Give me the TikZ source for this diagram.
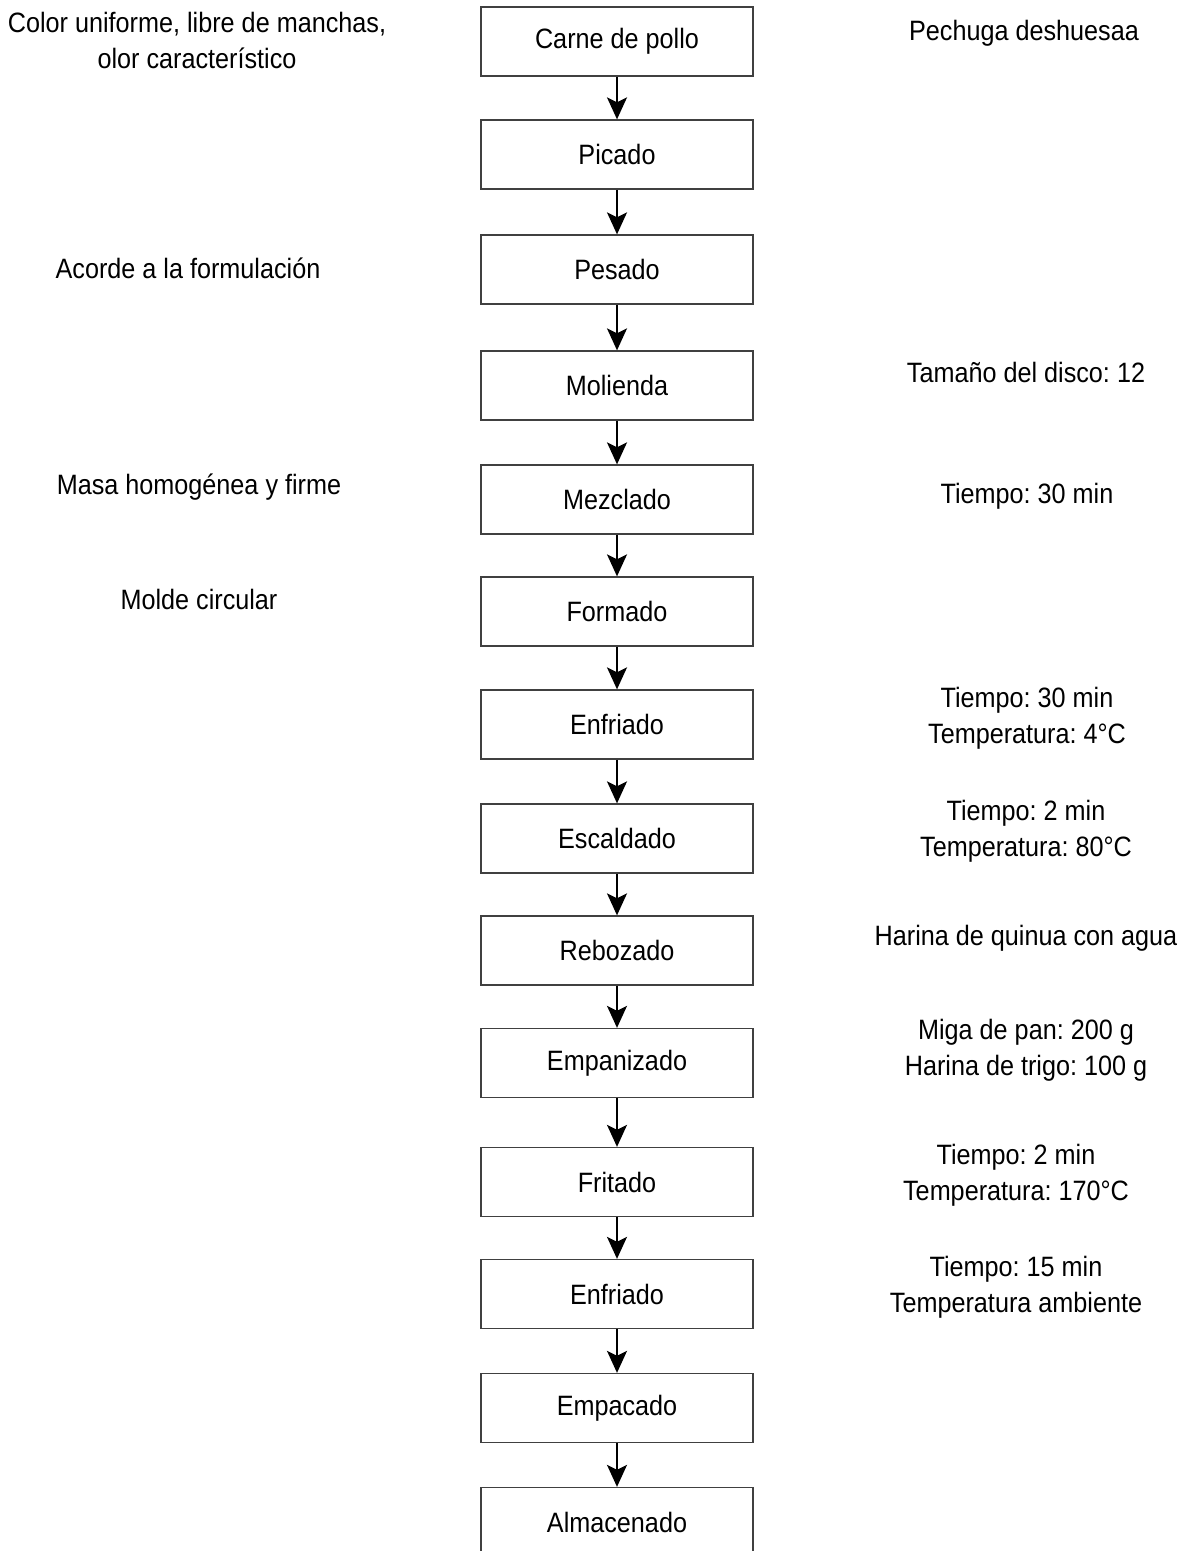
\documentclass[tikz,border=0pt]{standalone}
\usepackage{fontspec}
\setmainfont{Liberation Sans}[FakeStretch=0.9]
\usepackage{tikz}
\usetikzlibrary{arrows.meta}
\frenchspacing

\begin{document}
\begin{tikzpicture}[x=0.5pt,y=-0.5pt,
    font=\fontsize{14}{18}\selectfont,
    etapa/.style={draw=black!75,line width=0.65pt,minimum width=136pt,minimum height=34.5pt,inner sep=0pt},
    nota/.style={align=center,inner sep=0pt},
    flecha/.style={-{Stealth[length=11pt,width=10pt,inset=2.5pt]},line width=1pt}]
    \useasboundingbox (0,0) rectangle (1185,1551);

    \node[etapa] (carne) at (617,41.5) {Carne de pollo};
    \node[etapa] (picado) at (617,154.5) {Picado};
    \node[etapa] (pesado) at (617,269.5) {Pesado};
    \node[etapa] (molienda) at (617,385.5) {Molienda};
    \node[etapa] (mezclado) at (617,499.5) {Mezclado};
    \node[etapa] (formado) at (617,611.5) {Formado};
    \node[etapa] (enfriado) at (617,724.5) {Enfriado};
    \node[etapa] (escaldado) at (617,838.5) {Escaldado};
    \node[etapa] (rebozado) at (617,950.5) {Rebozado};
    \node[etapa] (empanizado) at (617,1063) {Empanizado};
    \node[etapa] (fritado) at (617,1182) {Fritado};
    \node[etapa] (enfriadoB) at (617,1294) {Enfriado};
    \node[etapa] (empacado) at (617,1408) {Empacado};
    \node[etapa] (almacenado) at (617,1522) {Almacenado};

    \foreach \a/\b in {carne/picado,picado/pesado,pesado/molienda,molienda/mezclado,
        mezclado/formado,formado/enfriado,enfriado/escaldado,escaldado/rebozado,
        rebozado/empanizado,empanizado/fritado,fritado/enfriadoB,enfriadoB/empacado,
        empacado/almacenado}
        \draw[flecha] (\a) -- (\b);

    \node[nota] (notaColor) at (197,40) {Color uniforme, libre de manchas,\\olor característico};
    \node[nota] (notaAcorde) at (188,268) {Acorde a la formulación};
    \node[nota] (notaMasa) at (199,487) {Masa homogénea y firme};
    \node[nota] (notaMolde) at (199,599) {Molde circular};

    \node[nota] (notaPechuga) at (1024,33) {Pechuga deshuesaa};
    \node[nota] (notaDisco) at (1026,372) {Tamaño del disco: 12};
    \node[nota] (notaMezcla) at (1027,496) {Tiempo: 30 min};
    \node[nota] (notaFrio) at (1027,718) {Tiempo: 30 min\\Temperatura: 4°C};
    \node[nota] (notaEscaldo) at (1026,831) {Tiempo: 2 min\\Temperatura: 80°C};
    \node[nota] (notaRebozo) at (1026,938) {Harina de quinua con agua};
    \node[nota] (notaEmpanizo) at (1026,1050) {Miga de pan: 200 g\\Harina de trigo: 100 g};
    \node[nota] (notaFrito) at (1016,1175) {Tiempo: 2 min\\Temperatura: 170°C};
    \node[nota] (notaReposo) at (1016,1287) {Tiempo: 15 min\\Temperatura ambiente};
\end{tikzpicture}
\end{document}
